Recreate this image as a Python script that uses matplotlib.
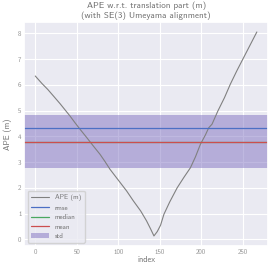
import matplotlib
matplotlib.use("Agg")
import matplotlib.pyplot as plt
import seaborn as sns

# Values
index = [0, 8, 15, 22, 30, 36, 42, 48, 54, 62, 70, 78, 84, 90, 100, 110, 118, 127,
         134, 139, 143, 147, 151, 155, 162, 171, 179, 187, 193, 199, 205, 209, 213,
         220, 228, 235, 243, 251, 259, 267]
ape = [6.34, 6.05, 5.82, 5.56, 5.26, 5.02, 4.78, 4.52, 4.27, 3.95, 3.62, 3.30, 3.02,
       2.72, 2.30, 1.88, 1.50, 1.10, 0.72, 0.40, 0.13, 0.30, 0.55, 0.97, 1.45, 2.00,
       2.40, 2.78, 3.20, 3.69, 4.05, 4.33, 4.47, 4.98, 5.50, 6.02, 6.55, 7.05, 7.55, 8.05]
rmse = 4.34
median = 3.78
mean = 3.79
std = 1.04

sns.set_theme(style="darkgrid")
plt.rcParams['font.family'] = ['cmss10', 'DejaVu Sans']
plt.rcParams['axes.unicode_minus'] = False

fig = plt.figure(figsize=(2.72, 2.69), dpi=100)
ax = fig.add_axes([0.089, 0.085, 0.896, 0.834])

ax.plot(index, ape, color="#808080", lw=0.8, label="APE (m)")
ax.axhline(rmse, color="#4c6fc4", lw=0.9, label="rmse")
ax.axhline(median, color="#4aa860", lw=0.9, label="median")
ax.axhline(mean, color="#cc4e4e", lw=0.9, label="mean")
ax.axhspan(mean - std, mean + std, color="#8172c2", alpha=0.5, lw=0, label="std")

txt = "#707070"
ax.set_title("APE w.r.t. translation part (m)\n(with SE(3) Umeyama alignment)",
             fontsize=6.5, color=txt, pad=3)
ax.set_xlabel("index", fontsize=6, color=txt, labelpad=1)
ax.set_ylabel("APE (m)", fontsize=6, color=txt, labelpad=4)
ax.tick_params(labelsize=5, colors="#909090", pad=2, length=0)
ax.set_xticks([0, 50, 100, 150, 200, 250])
ax.set_yticks(range(0, 9))
ax.grid(color="white", lw=0.8)

leg = ax.legend(loc="lower left", fontsize=5, frameon=True, handlelength=2.6,
                borderpad=0.5, labelspacing=0.5)
for t in leg.get_texts():
    t.set_color(txt)

fig.savefig("out.png", dpi=100)
